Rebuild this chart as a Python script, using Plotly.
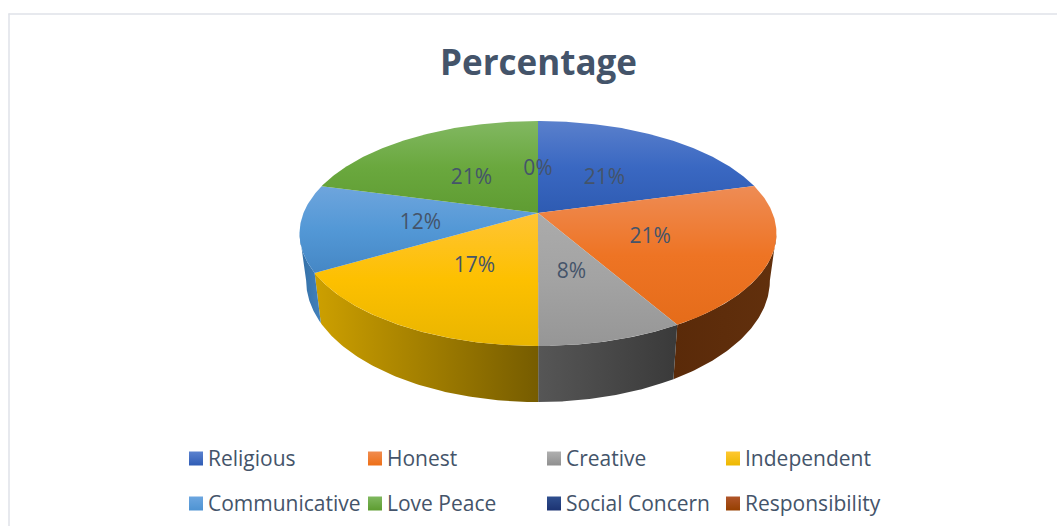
import numpy as np
import plotly.graph_objects as go

# ---- data ----
categories = ["Religious", "Honest", "Creative", "Independent",
              "Communicative", "Love Peace", "Social Concern", "Responsibility"]
percent_values = [20.83, 20.83, 8.33, 16.67, 12.5, 20.84, 0, 0]
percent_labels = ["21%", "21%", "8%", "17%", "12%", "21%", "0%", "0%"]
legend_colors = [["#5b82cf", "#2f5cb5"], ["#f08c50", "#ee6f16"], ["#b0b0b0", "#8f8f8f"], ["#ffc832", "#ecb800"],
                 ["#6ca6e0", "#4e93d2"], ["#7fb85f", "#5d9c30"], ["#2f4f8f", "#1c3372"], ["#b0552a", "#963f00"]]
top_colors = [["#5a80cc", "#3a68c2", "#2e5bb2"], ["#ee8c55", "#ee7424", "#e56c1a"],
              ["#ababab", "#a3a3a3", "#969696"], ["#ffc435", "#fdc000", "#e9b500"],
              ["#6ea5dd", "#5398d6", "#4587c5"], ["#82b862", "#6aa83e", "#5f9c32"],
              ["#2f4f8f", "#264478", "#1c3372"], ["#b0552a", "#9e480e", "#963f00"]]
wall_colors = [["#2b4a8a", "#2b4a8a"], ["#5a2a09", "#62300d"], ["#565656", "#3a3a3a"], ["#cda000", "#765c00"],
               ["#336ea5", "#4382bc"], ["#4f7f30", "#4f7f30"], ["#1c3372", "#1c3372"], ["#7a3508", "#7a3508"]]

# ---- layout constants (pixels of the 1057x526 picture) ----
CX, CY = 538.0, 213.0
TOP_A, TOP_B = 234.5, 108.8
BOT_A, BOT_B, BOT_Y = 228.0, 117.5, 258.4
PERSP = 0.182
TEXT = "#44546a"
FONT = "Open Sans"
SWATCH_X = [189, 368, 547, 726]
ROW_Y = [458.5, 503.5]
LEGEND_TEXT_DY = 2.5
LABEL_DY = 2
LABEL_Y_PIVOT, LABEL_Y_SCALE = 271.0, 0.96

def project(theta_deg, r=1.0, a=TOP_A, b=TOP_B, y0=CY):
    t = np.radians(theta_deg)
    u, v = r * np.sin(t), r * np.cos(t)
    d = 1 + PERSP * v
    return CX + a * u / d, y0 - b * v / d

shares = np.array(percent_values) / sum(percent_values) * 360
ends = np.cumsum(shares)
starts = ends - shares
SIL_L, SIL_R = 100.5, 259.5

fig = go.Figure()

# front walls
for i, cat in enumerate(categories):
    lo, hi = max(starts[i], SIL_L), min(ends[i], SIL_R)
    if hi <= lo:
        continue
    th = np.linspace(lo, hi, 80)
    xt, yt = project(th)
    xb, yb = project(th[::-1], a=BOT_A, b=BOT_B, y0=BOT_Y)
    fig.add_trace(go.Scatter(
        x=np.r_[xt, xb, xt[0]], y=np.r_[yt, yb, yt[0]], mode="lines", fill="toself",
        line=dict(width=0), hoverinfo="skip", showlegend=False,
        fillgradient=dict(type="horizontal",
                          colorscale=[[0, wall_colors[i][0]], [1, wall_colors[i][1]]])))

# top face slices (the y axis is reversed, so the gradient scale runs bottom to top)
for i, cat in enumerate(categories):
    if shares[i] <= 0:
        continue
    th = np.linspace(starts[i], ends[i], 120)
    x, y = project(th)
    fig.add_trace(go.Scatter(
        x=np.r_[CX, x, CX], y=np.r_[CY, y, CY], mode="lines", fill="toself",
        line=dict(width=0), hoverinfo="skip", showlegend=False, name=cat,
        fillgradient=dict(type="vertical",
                          colorscale=[[0, top_colors[i][2]], [0.5, top_colors[i][1]], [1, top_colors[i][0]]])))

# data labels (the zero slices share one spot, so one label is enough)
lx, ly, lt, seen = [], [], [], set()
for i in range(len(categories)):
    mid = (starts[i] + ends[i]) / 2
    x, y = project(mid, r=0.5)
    key = (round(float(x)), round(float(y)))
    if key in seen:
        continue
    seen.add(key)
    y = float(y) + LABEL_DY
    lx.append(float(x)); ly.append(LABEL_Y_PIVOT + (y - LABEL_Y_PIVOT) * LABEL_Y_SCALE); lt.append(percent_labels[i])
fig.add_trace(go.Scatter(x=lx, y=ly, text=lt, mode="text", textposition="middle center",
                         textfont=dict(family=FONT, size=21, color=TEXT),
                         hoverinfo="skip", showlegend=False))

# legend
for i, cat in enumerate(categories):
    col, row = i % 4, i // 4
    fig.add_trace(go.Scatter(
        x=[SWATCH_X[col] + 7], y=[ROW_Y[row]], mode="markers", hoverinfo="skip", showlegend=False,
        marker=dict(symbol="square", size=14, color=legend_colors[i][0], line=dict(width=0),
                    gradient=dict(type="vertical", color=legend_colors[i][1]))))
    fig.add_trace(go.Scatter(
        x=[SWATCH_X[col] + 19], y=[ROW_Y[row] + LEGEND_TEXT_DY], text=[cat], mode="text", textposition="middle right",
        textfont=dict(family=FONT, size=21, color=TEXT), hoverinfo="skip", showlegend=False))

fig.update_layout(
    width=1057, height=526, margin=dict(l=0, r=0, t=0, b=0),
    paper_bgcolor="white", plot_bgcolor="white", showlegend=False,
    title=dict(text="<b>Percentage</b>", x=538.5 / 1057, y=1 - 63 / 526, xanchor="center", yanchor="middle",
               font=dict(family=FONT, size=35, color=TEXT)),
    xaxis=dict(range=[0, 1057], visible=False, fixedrange=True),
    yaxis=dict(range=[526, 0], visible=False, fixedrange=True),
    shapes=[
        dict(type="line", xref="x", yref="y", x0=8.5, x1=1057, y0=14, y1=14, line=dict(color="#dfe2e8", width=1.5)),
        dict(type="line", xref="x", yref="y", x0=9, x1=9, y0=13.5, y1=526, line=dict(color="#dfe2e8", width=1.5)),
    ],
)

fig.write_html("out.html", config=dict(displayModeBar=False),
               post_script="document.body.style.margin='0';document.body.style.overflow='hidden';")
